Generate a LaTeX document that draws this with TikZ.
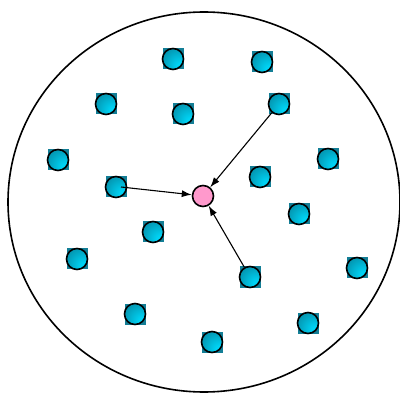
\documentclass[tikz,border=0pt]{standalone}
\usepackage{xcolor}
\usepackage{tikz}
\usetikzlibrary{arrows.meta}
\definecolor{svetla}{HTML}{00D4F6}
\definecolor{tmava}{HTML}{074A5C}
\definecolor{ctverec}{HTML}{137E96}
\definecolor{ruzova}{HTML}{FF99CC}
\pgfdeclareradialshading{kulicka}{\pgfpoint{20bp}{-20bp}}{%
  color(0bp)=(svetla); color(8bp)=(svetla); color(75bp)=(tmava)}

\begin{document}
\begin{tikzpicture}[x=1pt, y=1pt, >={Latex[length=10pt,width=7pt]},
  kulicka/.style={circle, draw, line width=1.6pt, minimum size=21pt,
    inner sep=0pt, shading=kulicka},
  stredkul/.style={circle, draw, line width=1.6pt, minimum size=21pt,
    inner sep=0pt, fill=ruzova},
  sipka/.style={->, line width=1.1pt}]
  \useasboundingbox (0,0) rectangle (400,392);

  % Nádoba
  \draw[line width=1.6pt] (204,190) ellipse [x radius=196, y radius=190];

  % Kuličky
  \foreach \x/\y [count=\i] in {173/333, 262/330, 106/288, 183/278, 279/288,
      58/232, 328/233, 116/205, 260/215, 299/178, 153/160, 77/133,
      250/115, 357/124, 135/78, 308/69, 212/50} {
    \fill[ctverec] (\x-10.5,\y-10.5) rectangle ++(21,21);
    \node[kulicka] (k\i) at (\x,\y) {};
  }

  % Střed
  \node[stredkul] (stred) at (203,196) {};

  % Šipky
  \draw[sipka] ([xshift=5pt]k8.center) -- (stred);
  \draw[sipka] (k5) -- (stred);
  \draw[sipka] (k13) -- (stred);
\end{tikzpicture}
\end{document}
